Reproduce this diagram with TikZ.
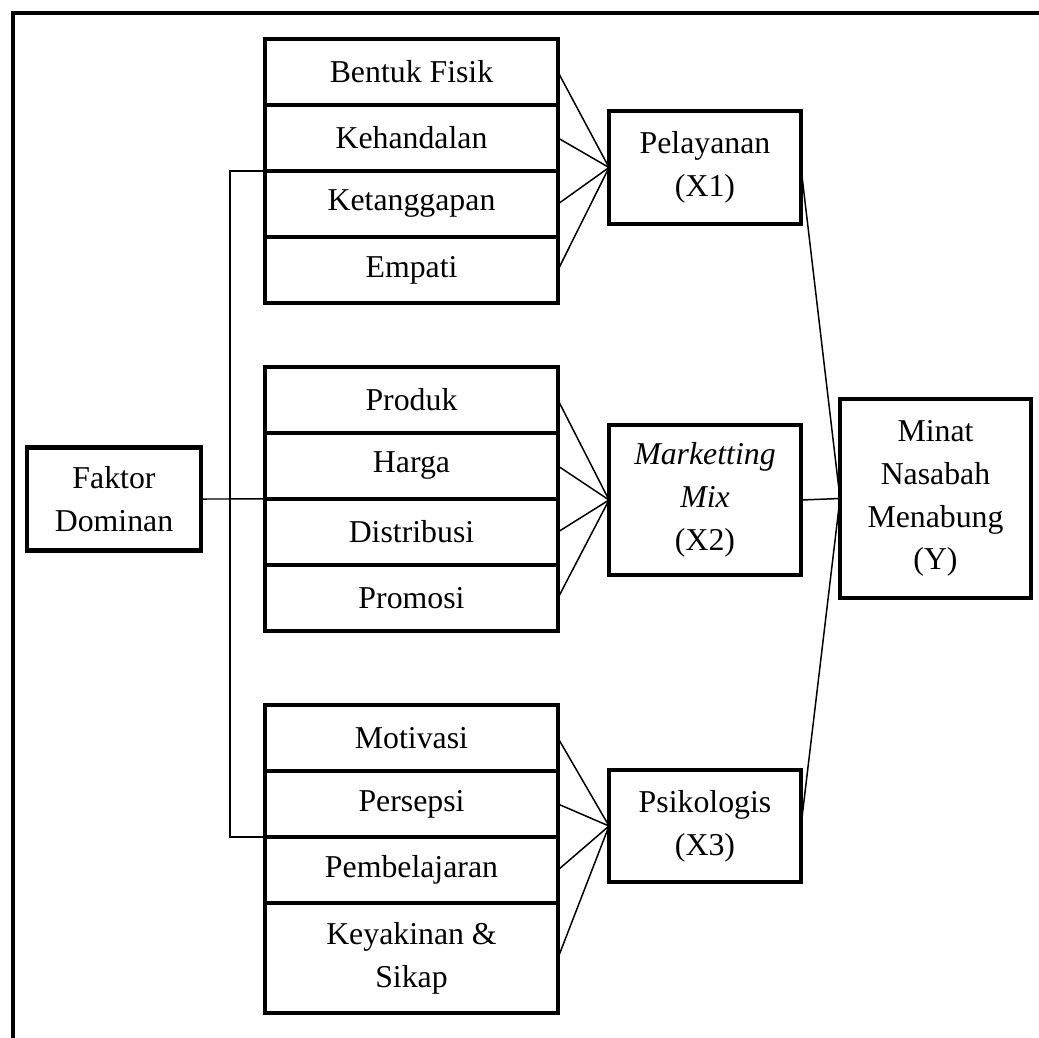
\documentclass[tikz,border=0pt]{standalone}
\usepackage{fontspec}
\setmainfont{Liberation Serif}
\usetikzlibrary{positioning}

\begin{document}
\begin{tikzpicture}[x=0.02cm,y=-0.02cm,
    box/.style={draw,line width=2.6pt,outer sep=0pt,inner sep=0pt,align=center,
      font=\fontsize{18.1pt}{24.4pt}\selectfont},
    sub/.style={box,minimum width=5.86cm,minimum height=1.32cm},
    mid/.style={box,minimum width=3.84cm},
    link/.style={line width=0.85pt}]
    \useasboundingbox (0,0) rectangle (1039,1038);

    %frame
    \draw[line width=2.8pt] (13,1060) -- (13,13) -- (1060,13);

    %indicators
    \node[sub] (bf) at (411.5,72) {Bentuk Fisik};
    \node[sub,below=0pt of bf] (keh) {Kehandalan};
    \node[sub,below=0pt of keh] (ket) {Ketanggapan};
    \node[sub,below=0pt of ket] (emp) {Empati};

    \node[sub] (prd) at (411.5,400) {Produk};
    \node[sub,below=0pt of prd] (hrg) {Harga};
    \node[sub,below=0pt of hrg] (dis) {Distribusi};
    \node[sub,below=0pt of dis] (pro) {Promosi};

    \node[sub] (mot) at (411.5,738) {Motivasi};
    \node[sub,below=0pt of mot] (per) {Persepsi};
    \node[sub,below=0pt of per] (pmb) {Pembelajaran};
    \node[sub,below=0pt of pmb,minimum height=2.2cm] (key) {Keyakinan \&\\Sikap};

    %variables
    \node[mid,minimum height=2.26cm] (pel) at (705,167.5) {Pelayanan\\(X1)};
    \node[mid,minimum height=3cm] (mm) at (705,500) {\textit{Marketting}\\\textit{Mix}\\(X2)};
    \node[mid,minimum height=2.24cm] (psi) at (705,826) {Psikologis\\(X3)};
    \node[box,minimum width=3.82cm,minimum height=3.98cm] (minat) at (935.5,498.5) {Minat\\Nasabah\\Menabung\\(Y)};
    \node[box,minimum width=3.48cm,minimum height=2.06cm] (fak) at (114,499) {Faktor\\Dominan};

    %links
    \foreach \n in {bf,keh,ket,emp} \draw[link] (\n.east) -- (pel.west);
    \foreach \n in {prd,hrg,dis,pro} \draw[link] (\n.east) -- (mm.west);
    \foreach \n in {mot,per,pmb,key} \draw[link] (\n.east) -- (psi.west);
    \foreach \n in {pel,mm,psi} \draw[link] (\n.east) -- (minat.west);

    \coordinate (bus) at (230,499);
    \draw[link] (fak.east) -- (hrg.south west);
    \draw[link] (keh.south west) -| (bus) |- (per.south west);

    \end{tikzpicture}
\end{document}
